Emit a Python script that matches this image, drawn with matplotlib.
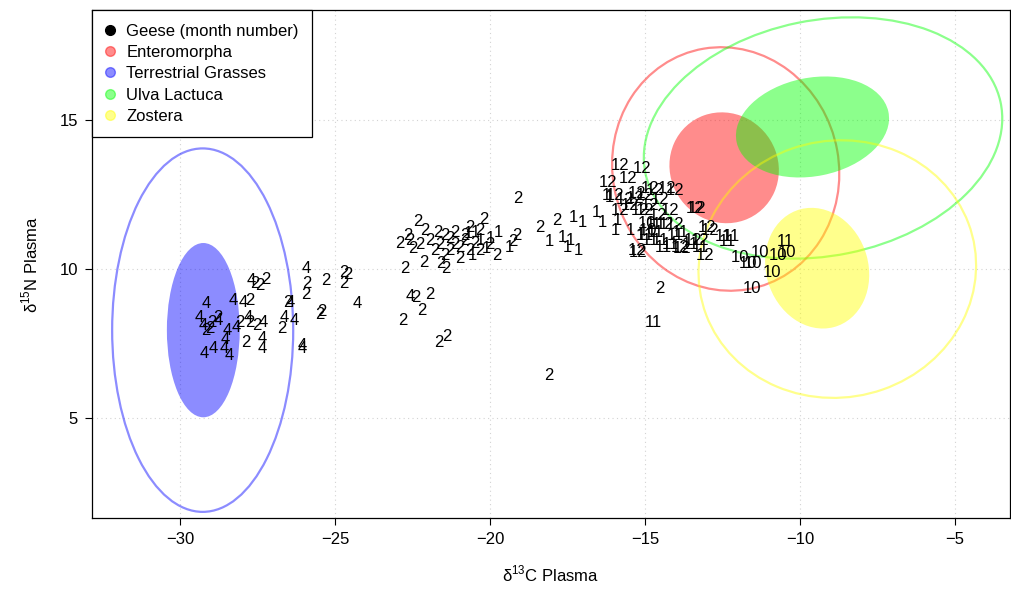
import matplotlib
matplotlib.use('Agg')
import matplotlib.pyplot as plt
from matplotlib.patches import Ellipse
from matplotlib.lines import Line2D

plt.rcParams['font.family'] = ['Liberation Sans', 'DejaVu Sans']
plt.rcParams['mathtext.fontset'] = 'custom'
plt.rcParams['mathtext.rm'] = 'Liberation Sans'

# geese isotope values, grouped by month of sampling
m4_x = [-29.16, -29.39, -28.29, -27.97, -27.71, -29.26, -28.94, -29.23, -28.58, -28.55,
        -28.48, -28.19, -27.35, -27.35, -27.32, -26.65, -26.45, -26.32, -26.06, -26.06,
        -25.94, -24.29, -22.58, -28.77, -27.81, -28.42]
m4_y = [8.83, 8.36, 8.96, 8.89, 9.63, 8.12, 7.32, 7.15, 7.32, 7.62,
        7.95, 8.05, 7.68, 7.35, 8.22, 8.36, 8.89, 8.26, 7.42, 7.32,
        10.03, 8.83, 9.09, 8.29, 8.36, 7.11]

m2_x = [-27.58, -27.42, -27.23, -27.74, -28.97, -29.16, -29.03, -28.77, -28.06, -27.74,
        -27.52, -27.87, -26.71, -26.52, -25.9, -25.94, -25.42, -25.48, -25.29, -24.71,
        -24.58, -24.71, -22.39, -21.94, -22.19, -22.81, -21.65, -21.39, -18.1, -14.52,
        -22.32, -22.9, -22.65, -22.74, -22.48, -22.13, -21.58, -21.42, -20.97, -20.65,
        -20.32, -20.0, -19.77, -19.13, -19.26, -20.19, -21.13, -20.81, -20.48, -21.94,
        -21.61, -21.29, -21.77, -21.45, -20.97, -22.1, -21.68, -20.65, -20.32, -19.1,
        -18.39, -17.84, -22.58, -22.26, -21.29, -21.13, -21.45, -20.81]
m2_y = [9.53, 9.46, 9.66, 8.96, 8.22, 7.95, 8.02, 8.36, 8.19, 8.22,
        8.12, 7.55, 8.02, 8.89, 9.53, 9.13, 8.59, 8.46, 9.6, 9.87,
        9.83, 9.5, 9.03, 9.16, 8.62, 8.29, 7.55, 7.75, 6.44, 9.36,
        11.61, 10.87, 11.14, 10.03, 10.7, 10.23, 10.2, 10.03, 10.74, 10.64,
        11.31, 10.81, 10.44, 11.14, 10.91, 11.68, 11.24, 11.14, 10.87, 10.97,
        10.81, 11.04, 10.64, 10.47, 10.37, 11.31, 11.24, 11.38, 10.64, 12.38,
        11.38, 11.64, 10.97, 10.81, 10.64, 10.81, 11.14, 10.97]

m1_x = [-20.71, -20.32, -20.13, -19.74, -20.58, -19.39, -20.48, -20.0,
        -17.32, -17.03, -16.58, -16.39, -18.1, -17.68, -17.42, -17.52, -17.16, -15.97,
        -15.9, -15.48, -16.26, -16.16, -15.16, -14.84]
m1_y = [11.21, 10.97, 10.7, 11.24, 10.47, 10.74, 11.24, 11.04,
        11.74, 11.58, 11.91, 11.58, 10.91, 11.07, 10.97, 10.74, 10.64, 11.31,
        11.64, 11.31, 12.48, 12.41, 11.14, 11.48]

m12_x = [-15.81, -15.1, -15.55, -16.19, -15.26, -14.29, -13.39, -13.0, -15.26, -13.87,
         -13.45, -13.32, -12.9, -13.23, -13.06, -13.81, -15.23, -15.97, -15.65, -15.32,
         -15.0, -14.68, -14.84, -15.16, -15.48, -14.52, -14.19, -14.03, -15.81, -14.58,
         -14.35, -14.03, -14.84, -15.0]
m12_y = [13.49, 13.39, 13.05, 12.89, 12.55, 12.72, 12.05, 11.38, 10.64, 10.74,
         10.97, 12.05, 11.31, 10.97, 10.47, 10.7, 10.57, 12.48, 12.32, 12.38,
         12.48, 12.65, 12.15, 11.98, 12.15, 12.32, 11.98, 12.65, 11.98, 11.81,
         11.48, 11.48, 12.72, 11.98]

m11_x = [-14.74, -12.35, -14.42, -10.48, -12.48, -12.23, -14.52, -14.68, -14.19, -13.55,
         -13.23, -14.84, -15.0, -14.03, -14.52, -13.87]
m11_y = [8.19, 10.91, 10.74, 10.91, 11.11, 11.11, 10.97, 11.24, 10.81, 10.81,
         10.74, 10.97, 11.14, 11.14, 11.48, 11.24]

m10_x = [-11.94, -11.68, -11.55, -11.52, -11.29, -10.71, -10.42, -10.9, -14.94, -14.9]
m10_y = [10.4, 10.2, 9.36, 10.2, 10.54, 10.47, 10.54, 9.9, 11.54, 11.3]

months = [(4, m4_x, m4_y), (2, m2_x, m2_y), (1, m1_x, m1_y),
          (12, m12_x, m12_y), (11, m11_x, m11_y), (10, m10_x, m10_y)]

# source ellipses: name, colour, inner (cx, cy, w, h, angle), outer (cx, cy, w, h, angle)
src_names = ['Enteromorpha', 'Terrestrial Grasses', 'Ulva Lactuca', 'Zostera']
src_cols = ['#FF0000', '#0000FF', '#00FF00', '#FFFF00']
src_inner = [(-12.45, 13.4, 3.5, 3.75, 20), (-29.25, 7.95, 2.35, 5.85, 0),
             (-9.6, 14.77, 5.0, 3.3, 12), (-9.45, 10.03, 3.3, 4.1, 15)]
src_outer = [(-12.4, 13.36, 7.3, 8.2, 10), (-29.27, 7.95, 5.84, 12.2, 0),
             (-9.26, 14.4, 11.7, 7.9, 12), (-8.8, 10.0, 9.0, 8.6, 20)]

fig = plt.figure(figsize=(10.11, 5.99), dpi=100)
ax = fig.add_axes([0.091, 0.135, 0.908, 0.848])

for col, inn, out in zip(src_cols, src_inner, src_outer):
    ax.add_patch(Ellipse(inn[:2], inn[2], inn[3], angle=inn[4],
                         facecolor=col, alpha=0.45, edgecolor='none', zorder=2))
    ax.add_patch(Ellipse(out[:2], out[2], out[3], angle=out[4],
                         facecolor='none', edgecolor=col, alpha=0.45, lw=1.6, zorder=2))

for m, xs, ys in months:
    for x, y in zip(xs, ys):
        ax.text(x, y, str(m), fontsize=12, ha='center', va='center', zorder=3)

ax.set_xlim(-32.84, -3.23)
ax.set_ylim(1.64, 18.69)
ax.set_xticks([-30, -25, -20, -15, -10, -5])
ax.set_yticks([5, 10, 15])
ax.grid(True, color='lightgray', linestyle=(0, (1, 3)), linewidth=0.8)
ax.set_axisbelow(True)
ax.tick_params(labelsize=12, length=5, direction='out', pad=5)
for s in ax.spines.values():
    s.set_linewidth(0.9)

ax.set_xlabel('δ$^{13}$C Plasma', fontsize=12, labelpad=12)
ax.set_ylabel('δ$^{15}$N Plasma', fontsize=12, labelpad=14)

handles = [Line2D([], [], marker='o', ls='', color='black', markersize=7)]
for col in src_cols:
    handles.append(Line2D([], [], marker='o', ls='', color=col, alpha=0.45, markersize=7))
leg = ax.legend(handles, ['Geese (month number)'] + src_names, loc='upper left',
                fontsize=12, fancybox=False, edgecolor='black', framealpha=1,
                borderaxespad=0, handletextpad=0.75, labelspacing=0.38,
                handlelength=0.5, borderpad=0.8)
leg.get_frame().set_linewidth(0.9)
leg.set_zorder(5)

fig.savefig('out.png', dpi=100)
